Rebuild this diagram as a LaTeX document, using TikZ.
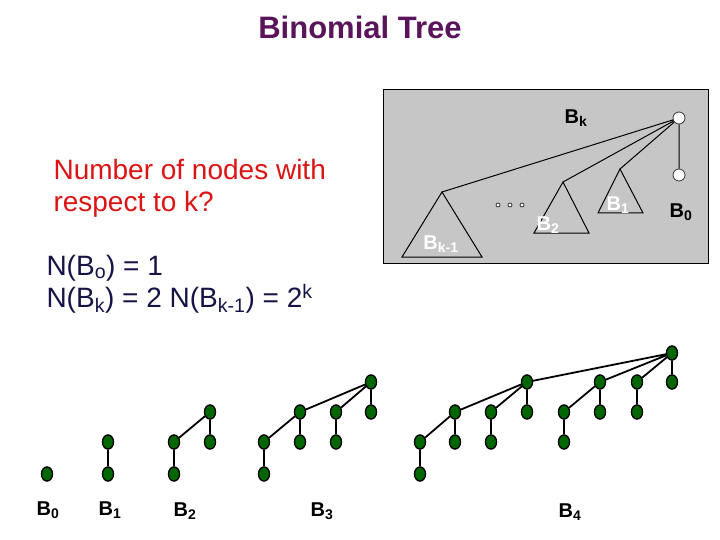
\documentclass[tikz,border=0pt]{standalone}
\usepackage{fontspec}
\setmainfont{Liberation Sans}
\usetikzlibrary{shapes.geometric}
\begin{document}
\begin{tikzpicture}[x=1pt,y=-1pt,
 gn/.style={ellipse,fill=green!40!black,draw=black,line width=1.2pt,minimum width=11pt,minimum height=14pt,inner sep=0pt},
 wn/.style={circle,fill=white,draw=black!80,line width=0.8pt,minimum size=12pt,inner sep=0pt},
 edge/.style={line width=1.8pt},
 tri/.style={draw=black,line width=1pt,fill=gray!45},
 lab/.style={font=\bfseries\fontsize{20}{22}\selectfont}]
\useasboundingbox (0,0) rectangle (720,540);
\node[font=\bfseries\fontsize{31}{36}\selectfont,text={rgb,255:red,90;green,20;blue,90}] (title) at (360,27) {Binomial Tree};
% gray box
\node[draw=black,line width=1pt,fill=gray!45,minimum width=325pt,minimum height=174pt,anchor=north west,inner sep=0pt] (box) at (383,89) {};
\node[wn] (r) at (679,118) {};
\node[wn] (r0) at (679,175) {};
\coordinate (a1) at (442,192);\coordinate (a2) at (563,182);\coordinate (a3) at (620,169);
\draw[tri] (a1) -- (402,257) -- (482,257) -- cycle;
\draw[tri] (a2) -- (534,233) -- (589,233) -- cycle;
\draw[tri] (a3) -- (598,213) -- (643,213) -- cycle;
\draw[line width=1pt] (r) -- (r0) (r) -- (a1) (r) -- (a2) (r) -- (a3);
\foreach \x in {498,510,522} \fill[white] (\x,205) circle (2pt); 
\foreach \x in {498,510,522} \draw[line width=0.6pt] (\x,205) circle (2pt);
\node[lab] (bk) at (576,118) {B\textsubscript{k}};
\node[lab] (bb0) at (681,212) {B\textsubscript{0}};
\node[lab,white] (bkm) at (441,244) {B\textsubscript{k-1}};
\node[lab,white] (bb2) at (548,225) {B\textsubscript{2}};
\node[lab,white] (bb1) at (618,205) {B\textsubscript{1}};
% texts
\node[anchor=west,align=left,text={rgb,255:red,220;green,20;blue,20},font=\fontsize{28}{32}\selectfont] (q) at (50,188) {Number of nodes with\\respect to k?};
\node[anchor=west,align=left,text={rgb,255:red,20;green,20;blue,70},font=\fontsize{28}{32}\selectfont] (eq) at (43,284) {N(B\textsubscript{o}) = 1\\N(B\textsubscript{k}) = 2 N(B\textsubscript{k-1}) = 2\textsuperscript{k}};
% B0
\node[gn] (z0) at (47,474) {};
% B1
\node[gn] (p0) at (108,442) {};\node[gn] (p1) at (108,474) {};
\draw[edge] (p0)--(p1);
% B2
\node[gn] (q0) at (210,412) {};\node[gn] (q1) at (210,442) {};
\node[gn] (q2) at (174,442) {};\node[gn] (q3) at (174,474) {};
\draw[edge] (q0)--(q1) (q0)--(q2) (q2)--(q3);
% B3
\node[gn] (s0) at (371,382) {};
\node[gn] (s1) at (300,412) {};\node[gn] (s2) at (336,412) {};\node[gn] (s3) at (371,412) {};
\node[gn] (s4) at (264,442) {};\node[gn] (s5) at (300,442) {};\node[gn] (s6) at (336,442) {};
\node[gn] (s7) at (264,474) {};
\draw[edge] (s0)--(s1) (s0)--(s2) (s0)--(s3) (s1)--(s4) (s1)--(s5) (s2)--(s6) (s4)--(s7);
% B4
\node[gn] (t0) at (672,353) {};
\node[gn] (t1) at (527,382) {};\node[gn] (t2) at (600,382) {};\node[gn] (t3) at (637,382) {};\node[gn] (t4) at (672,382) {};
\node[gn] (t5) at (455,412) {};\node[gn] (t6) at (491,412) {};\node[gn] (t7) at (527,412) {};
\node[gn] (t8) at (564,412) {};\node[gn] (t9) at (600,412) {};\node[gn] (t10) at (637,412) {};
\node[gn] (t11) at (420,442) {};\node[gn] (t12) at (455,442) {};\node[gn] (t13) at (491,442) {};\node[gn] (t14) at (564,442) {};
\node[gn] (t15) at (420,474) {};
\draw[edge] (t0)--(t1) (t0)--(t2) (t0)--(t3) (t0)--(t4) (t1)--(t5) (t1)--(t6) (t1)--(t7)
 (t2)--(t8) (t2)--(t9) (t3)--(t10) (t5)--(t11) (t5)--(t12) (t6)--(t13) (t8)--(t14) (t11)--(t15);
\foreach \n in {z0,p0,p1,q0,q1,q2,q3,s0,s1,s2,s3,s4,s5,s6,s7,t0,t1,t2,t3,t4,t5,t6,t7,t8,t9,t10,t11,t12,t13,t14,t15}
  \node[gn] at (\n) {};
% labels
\node[lab] (l0) at (48,510) {B\textsubscript{0}};
\node[lab] (l1) at (110,510) {B\textsubscript{1}};
\node[lab] (l2) at (185,511) {B\textsubscript{2}};
\node[lab] (l3) at (322,511) {B\textsubscript{3}};
\node[lab] (l4) at (570,512) {B\textsubscript{4}};
\end{tikzpicture}
\end{document}
